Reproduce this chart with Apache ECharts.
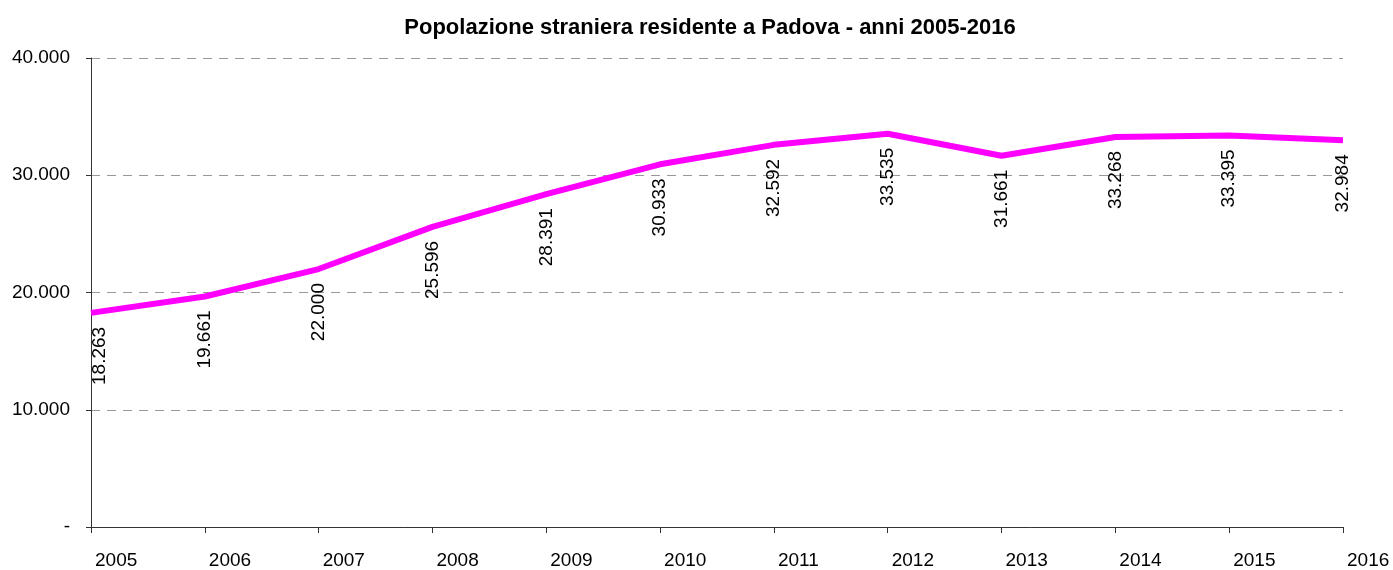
<!DOCTYPE html>
<html>
<head>
<meta charset="utf-8">
<script src="https://cdn.jsdelivr.net/npm/echarts@6/dist/echarts.min.js"></script>
<style>
  html, body { margin: 0; padding: 0; background: #fff; }
  #chart { width: 1393px; height: 570px; }
</style>
</head>
<body>
<div id="chart"></div>
<script>
// anni e popolazione straniera residente
const years = ['2005', '2006', '2007', '2008', '2009', '2010', '2011', '2012', '2013', '2014', '2015', '2016'];
const residents = [18263, 19661, 22000, 25596, 28391, 30933, 32592, 33535, 31661, 33268, 33395, 32984];
const yTicks = [0, 10000, 20000, 30000, 40000];

const fmt = v => v === 0 ? '-' : String(v).replace(/\B(?=(\d{3})+(?!\d))/g, '.');
const font = '"Liberation Sans", Arial, sans-serif';

// first label is pushed inside the plot area, like in the original
const seriesData = residents.map((v, i) => i === 0 ? { value: v, label: { offset: [0, 9] } } : v);

let chart = echarts.init(document.getElementById('chart'));
chart.setOption({
  animation: false,
  title: {
    text: 'Popolazione straniera residente a Padova - anni 2005-2016',
    left: 705,
    textAlign: 'center',
    top: 12,
    textStyle: { fontFamily: font, fontSize: 22, fontWeight: 'bold', color: '#000' }
  },
  grid: { left: 91, right: 50, top: 58, bottom: 43 },
  xAxis: {
    type: 'category',
    data: years,
    boundaryGap: false,
    axisLine: { lineStyle: { color: '#333', width: 1 } },
    axisTick: { show: true, length: 6, lineStyle: { color: '#333' } },
    axisLabel: {
      margin: 24, fontFamily: font, fontSize: 19, color: '#000',
      align: 'left', padding: [0, 0, 0, 4]
    },
    splitLine: { show: false }
  },
  yAxis: {
    type: 'value',
    min: yTicks[0],
    max: yTicks[yTicks.length - 1],
    interval: 10000,
    axisLine: { show: true, lineStyle: { color: '#333', width: 1 } },
    axisTick: { show: true, length: 5, lineStyle: { color: '#333' } },
    axisLabel: { margin: 21, fontFamily: font, fontSize: 19, color: '#000', formatter: fmt },
    splitLine: { show: true, lineStyle: { color: '#999', type: [9, 7], width: 1 } }
  },
  series: [
    {
      name: 'Popolazione straniera',
      type: 'line',
      data: seriesData,
      symbol: 'circle',
      symbolSize: 0,
      showSymbol: true,
      lineStyle: { color: '#ff00ff', width: 6 },
      itemStyle: { color: '#ff00ff' },
      label: {
        show: true,
        position: 'bottom',
        distance: 14,
        rotate: 90,
        align: 'right',
        verticalAlign: 'middle',
        fontFamily: font,
        fontSize: 19,
        color: '#000',
        formatter: p => fmt(p.value)
      }
    }
  ]
});
</script>
</body>
</html>
